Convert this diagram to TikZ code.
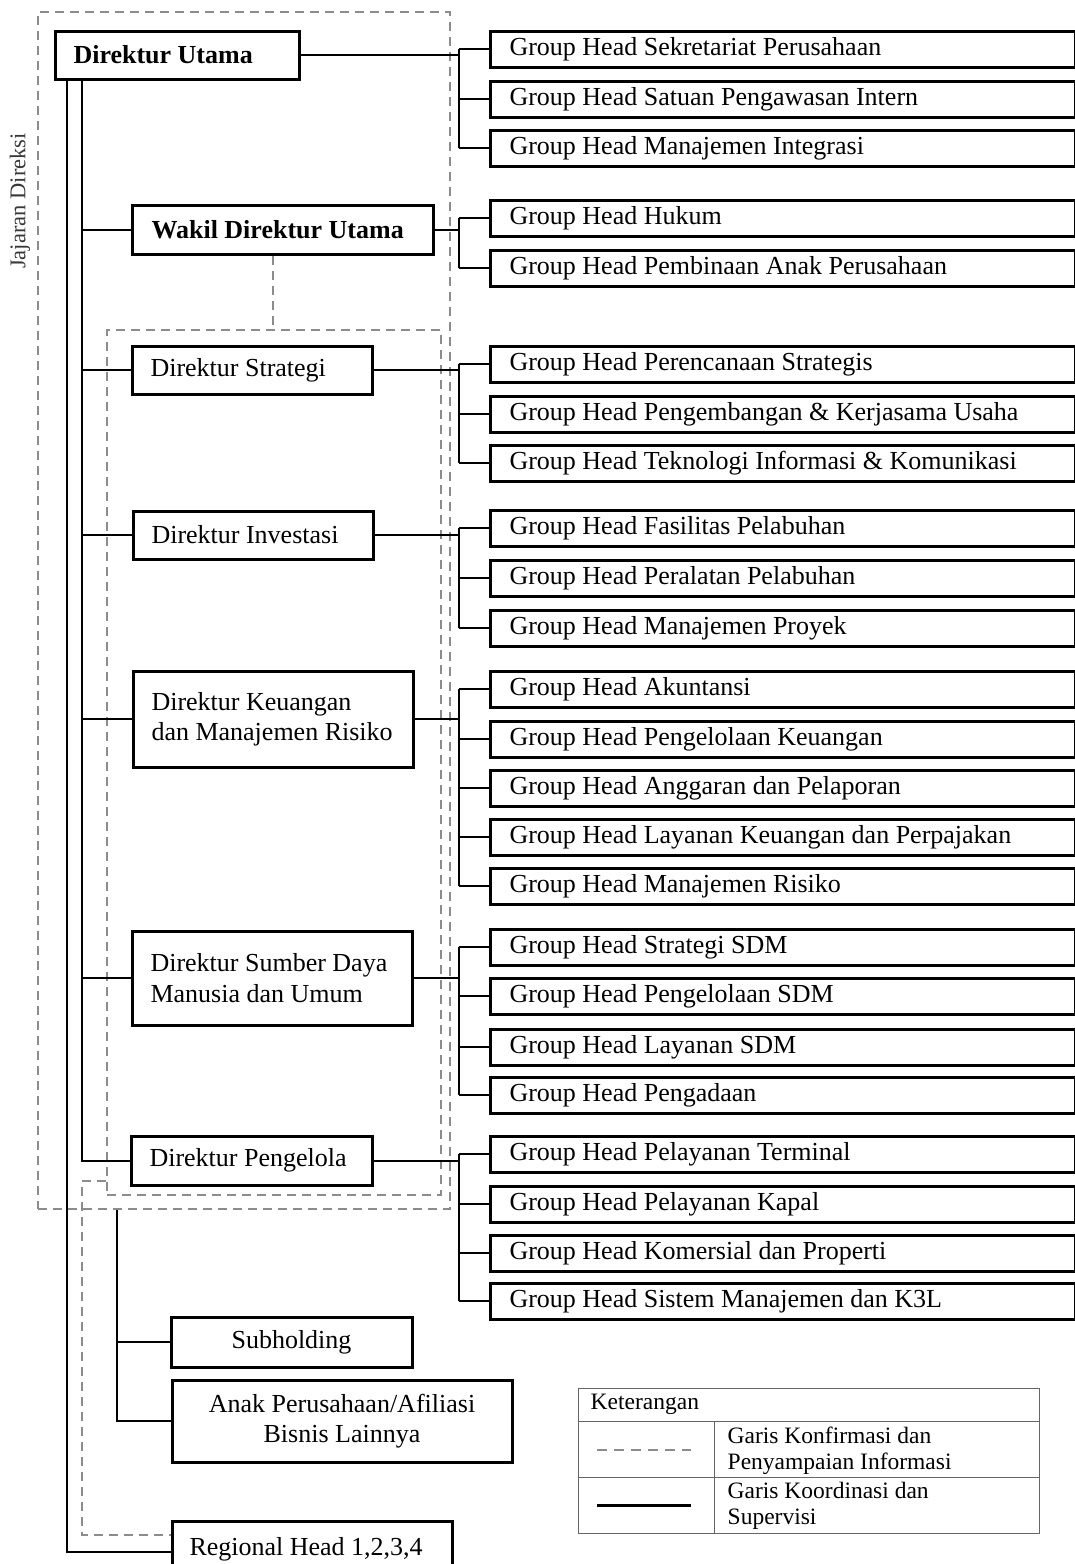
\documentclass[tikz,border=0pt]{standalone}
\usepackage{fontspec}
\setmainfont{Liberation Serif}
\usetikzlibrary{calc}
\newcommand\lbx[2]{\hbox to #1{#2\hfil}}
\begin{document}
\begin{tikzpicture}[x=1pt,y=-1pt,
  bx/.style={draw=black, line width=3pt, inner ysep=0pt, anchor=north west,
    font=\fontsize{26}{30.5}\selectfont},
  gh/.style={bx, minimum width=585pt, minimum height=36pt, inner xsep=19.5pt},
  conn/.style={line width=2pt, black},
  dsh/.style={line width=2pt, black!45, dash pattern=on 9pt off 6pt},
  dbox/.style={draw=black!45, line width=2pt, dash pattern=on 9pt off 6pt,
    inner sep=0pt, anchor=north west},
  legline/.style={line width=1.5pt, black!60},
  legtext/.style={font=\fontsize{23.5}{26}\selectfont, inner sep=0pt, anchor=west, align=left}
]
\clip (0,0) rectangle (1075,1564);
\fill[white] (0,0) rectangle (1075,1564);

% dashed frames
\node[dbox, minimum width=412pt, minimum height=1197pt] (outer) at (37,11) {};
\node[dbox, minimum width=334pt, minimum height=865pt] (inner) at (106,329) {};

% side label
\node[font=\fontsize{22.5}{26}\selectfont, text=black!78, rotate=90, inner sep=0pt] (jd) at (20,201) {Jajaran Direksi};

% directors
\node[bx, minimum width=244pt, minimum height=48pt, inner xsep=18.5pt] (du) at (53.5,29.5) {\lbx{207pt}{\bfseries Direktur Utama}};
\node[bx, minimum width=301pt, minimum height=49pt, inner xsep=19.5pt] (wdu) at (130.5,203.5) {\lbx{262pt}{\bfseries Wakil Direktur Utama}};
\node[bx, minimum width=240pt, minimum height=48pt, inner xsep=18.5pt] (ds) at (130.5,344.5) {\lbx{203pt}{Direktur Strategi}};
\node[bx, minimum width=240pt, minimum height=48pt, inner xsep=18.5pt] (di) at (131.5,509.5) {\lbx{203pt}{Direktur Investasi}};
\node[bx, minimum width=280pt, minimum height=96pt, inner xsep=18.5pt, align=left] (dk) at (131.5,669.5) {\lbx{243pt}{Direktur Keuangan}\\\lbx{243pt}{dan Manajemen Risiko}};
\node[bx, minimum width=280pt, minimum height=94pt, inner xsep=18.5pt, align=left] (dsdm) at (130.5,929.5) {\lbx{243pt}{Direktur Sumber Daya}\\\lbx{243pt}{Manusia dan Umum}};
\node[bx, minimum width=241pt, minimum height=49pt, inner xsep=18.5pt] (dp) at (129.5,1134.5) {\lbx{204pt}{Direktur Pengelola}};
\node[bx, minimum width=241pt, minimum height=50pt, inner xsep=4pt] (sub) at (169.5,1315.5) {Subholding};
\node[bx, minimum width=340pt, minimum height=82pt, inner xsep=4pt, align=center] (anak) at (170.5,1378.5) {Anak Perusahaan/Afiliasi\\Bisnis Lainnya};
\node[bx, minimum width=280pt, minimum height=57pt, inner xsep=17.5pt] (reg) at (170.5,1519.5) {\lbx{245pt}{Regional Head 1,2,3,4}};

% group heads
\node[gh] (g1) at (488.5,29.5) {\lbx{546pt}{Group Head Sekretariat Perusahaan}};
\node[gh] (g2) at (488.5,79.5) {\lbx{546pt}{Group Head Satuan Pengawasan Intern}};
\node[gh] (g3) at (488.5,128.5) {\lbx{546pt}{Group Head Manajemen Integrasi}};
\node[gh] (g4) at (488.5,198.5) {\lbx{546pt}{Group Head Hukum}};
\node[gh] (g5) at (488.5,248.5) {\lbx{546pt}{Group Head Pembinaan Anak Perusahaan}};
\node[gh] (g6) at (488.5,344.5) {\lbx{546pt}{Group Head Perencanaan Strategis}};
\node[gh] (g7) at (488.5,394.5) {\lbx{546pt}{Group Head Pengembangan \& Kerjasama Usaha}};
\node[gh] (g8) at (488.5,443.5) {\lbx{546pt}{Group Head Teknologi Informasi \& Komunikasi}};
\node[gh] (g9) at (488.5,508.5) {\lbx{546pt}{Group Head Fasilitas Pelabuhan}};
\node[gh] (g10) at (488.5,558.5) {\lbx{546pt}{Group Head Peralatan Pelabuhan}};
\node[gh] (g11) at (488.5,608.5) {\lbx{546pt}{Group Head Manajemen Proyek}};
\node[gh] (g12) at (488.5,669.5) {\lbx{546pt}{Group Head Akuntansi}};
\node[gh] (g13) at (488.5,719.5) {\lbx{546pt}{Group Head Pengelolaan Keuangan}};
\node[gh] (g14) at (488.5,768.5) {\lbx{546pt}{Group Head Anggaran dan Pelaporan}};
\node[gh] (g15) at (488.5,817.5) {\lbx{546pt}{Group Head Layanan Keuangan dan Perpajakan}};
\node[gh] (g16) at (488.5,866.5) {\lbx{546pt}{Group Head Manajemen Risiko}};
\node[gh] (g17) at (488.5,927.5) {\lbx{546pt}{Group Head Strategi SDM}};
\node[gh] (g18) at (488.5,976.5) {\lbx{546pt}{Group Head Pengelolaan SDM}};
\node[gh] (g19) at (488.5,1027.5) {\lbx{546pt}{Group Head Layanan SDM}};
\node[gh] (g20) at (488.5,1075.5) {\lbx{546pt}{Group Head Pengadaan}};
\node[gh] (g21) at (488.5,1134.5) {\lbx{546pt}{Group Head Pelayanan Terminal}};
\node[gh] (g22) at (488.5,1184.5) {\lbx{546pt}{Group Head Pelayanan Kapal}};
\node[gh] (g23) at (488.5,1233.5) {\lbx{546pt}{Group Head Komersial dan Properti}};
\node[gh] (g24) at (488.5,1281.5) {\lbx{546pt}{Group Head Sistem Manajemen dan K3L}};

% column coordinates
\coordinate (cA) at (67,0);
\coordinate (cB) at (82,0);
\coordinate (cC) at (117,0);
\coordinate (tA) at (459,0);
\coordinate (rj) at ($(reg.north west)+(0,32.5)$);
\coordinate (rd) at ($(reg.north west)+(0,15.5)$);
\coordinate (d1) at ($(inner.south west)+(0,-15)$);
\coordinate (wdx) at ($(wdu.south west)+(142.5,0)$);

% dashed connectors
\draw[dsh] (wdx) -- (wdx |- inner.north);
\draw[dsh] (d1) -- (d1 -| cB) -- (rd -| cB) -- (rd);

% left solid connectors
\draw[conn] (du.south -| cA) -- (rj -| cA) -- (rj);
\draw[conn] (du.south -| cB) -- (dp.west -| cB) -- (dp.west);
\foreach \n in {wdu,ds,di,dk,dsdm} \draw[conn] (\n.west -| cB) -- (\n.west);
\draw[conn] (outer.south -| cC) -- (anak.west -| cC) -- (anak.west);
\draw[conn] (sub.west -| cC) -- (sub.west);

% right solid connectors
\foreach \d/\a/\b/\all in {du/g1/g3/{g1,g2,g3}, wdu/g4/g5/{g4,g5}, ds/g6/g8/{g6,g7,g8},
  di/g9/g11/{g9,g10,g11}, dk/g12/g16/{g12,g13,g14,g15,g16},
  dsdm/g17/g20/{g17,g18,g19,g20}, dp/g21/g24/{g21,g22,g23,g24}}{
  \draw[conn] (\d.east) -- (\d.east -| tA);
  \draw[conn] (\a.west -| tA) -- (\b.west -| tA);
  \foreach \g in \all \draw[conn] (\g.west -| tA) -- (\g.west);
}

% legend
\node[draw=black!60, line width=1.5pt, inner sep=0pt, anchor=north west, minimum width=461pt, minimum height=145pt] (leg) at (577.5,1387.5) {};
\draw[legline] ($(leg.north west)+(0,34)$) -- ($(leg.north east)+(0,34)$);
\draw[legline] ($(leg.north west)+(0,90)$) -- ($(leg.north east)+(0,90)$);
\draw[legline] ($(leg.north west)+(137,34)$) -- ($(leg.south west)+(137,0)$);
\node[legtext] (legT) at ($(leg.north west)+(13,16.5)$) {Keterangan};
\node[legtext] (leg1) at ($(leg.north west)+(150,63)$) {Garis Konfirmasi dan\\Penyampaian Informasi};
\node[legtext] (leg2) at ($(leg.north west)+(150,118)$) {Garis Koordinasi dan\\Supervisi};
\coordinate (la1) at ($(leg.north west)+(19,62)$);
\coordinate (la2) at ($(leg.north west)+(113,62)$);
\coordinate (lb1) at ($(leg.north west)+(19,118)$);
\coordinate (lb2) at ($(leg.north west)+(113,118)$);
\draw[line width=2pt, black!45, dash pattern=on 10pt off 7pt] (la1) -- (la2);
\draw[line width=3pt, black] (lb1) -- (lb2);
\end{tikzpicture}
\end{document}
